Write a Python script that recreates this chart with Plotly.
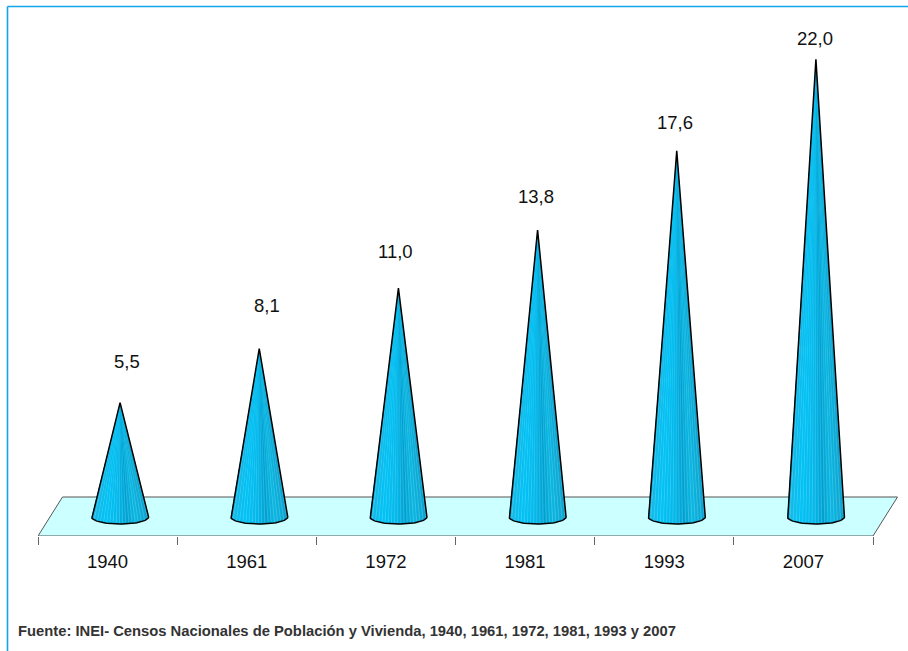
import math
import plotly.graph_objects as go

# ---- data ----
years = ["1940", "1961", "1972", "1981", "1993", "2007"]
values = [5.5, 8.1, 11.0, 13.8, 17.6, 22.0]
source = "Fuente: INEI- Censos Nacionales de Población y Vivienda, 1940, 1961, 1972, 1981, 1993 y 2007"

# ---- layout geometry (pixels) ----
W, H = 908, 651
L, R, B = 38, 903, 536
PX_X = (873 - 38) / len(years)   # px per category
PX_Y = 20.8                      # px per value unit
Y_BOTTOM = -(536 - 517) / PX_Y
Y_TOP = (517 - 0) / PX_Y
CONE_SHIFT = 12.5 / PX_X
CONE_HW = 28.5 / PX_X
ELL_H = 7 / PX_Y
FLOOR_DX = 24.5 / PX_X
FLOOR_BACK = (517 - 497) / PX_Y
LABEL_DX = [7, 8, -3, -2, -2, -1]
LABEL_DY = [41, 43, 37, 33, 28, 21]
FONT = "Liberation Sans"


def mix(c1, c2, f):
    return tuple(a + (b - a) * f for a, b in zip(c1, c2))


STOPS = [(-1.0, (24, 184, 228)), (-0.55, (0, 196, 248)), (-0.1, (4, 186, 236)),
         (0.25, (0, 160, 208)), (0.55, (12, 184, 226)), (1.0, (14, 160, 204))]


def shade(t, stripe):
    for (t0, c0), (t1, c1) in zip(STOPS, STOPS[1:]):
        if t <= t1:
            c = mix(c0, c1, (t - t0) / (t1 - t0))
            break
    if stripe:
        c = mix(c, (255, 255, 255), 0.18)
    return "rgb(%d,%d,%d)" % c


fig = go.Figure()

# floor
fig.add_trace(go.Scatter(
    x=[0, FLOOR_DX, len(years) + FLOOR_DX, len(years), 0],
    y=[Y_BOTTOM, FLOOR_BACK, FLOOR_BACK, Y_BOTTOM, Y_BOTTOM],
    mode="lines", fill="toself", fillcolor="#CCFFFF",
    line=dict(color="#555555", width=1),
    hoverinfo="skip", showlegend=False, cliponaxis=False))

# solid underlay so seams between slices do not show the background
ux, uy = [], []
for k, v in enumerate(values):
    c = k + 0.5 + CONE_SHIFT
    ux.append(c)
    uy.append(v)
    for j in range(41):
        a = math.pi * j / 40
        ux.append(c - CONE_HW * math.cos(a))
        uy.append(-ELL_H * math.sin(a))
    ux += [c, None]
    uy += [v, None]
fig.add_trace(go.Scatter(
    x=ux, y=uy, mode="none", fill="toself", fillcolor="rgb(6,182,232)",
    hoverinfo="skip", showlegend=False))

# cone bodies: radial slices (wide base band, narrow light band)
PAIRS = 18
edges = []
for p in range(PAIRS):
    edges += [p / PAIRS, (p + 0.62) / PAIRS]
edges.append(1.0)
for i in range(len(edges) - 1):
    t0, t1 = -1 + 2 * edges[i], -1 + 2 * edges[i + 1]
    xs, ys = [], []
    for k, v in enumerate(values):
        c = k + 0.5 + CONE_SHIFT
        y0 = -ELL_H * math.sqrt(max(0, 1 - t0 * t0))
        y1 = -ELL_H * math.sqrt(max(0, 1 - t1 * t1))
        xs += [c, c + t0 * CONE_HW, c + t1 * CONE_HW, c, None]
        ys += [v, y0, y1, v, None]
    col = shade((t0 + t1) / 2, i % 2 == 1)
    fig.add_trace(go.Scatter(
        x=xs, y=ys, mode="none", fill="toself", fillcolor=col,
        hoverinfo="skip", showlegend=False))

# cone outlines
fig.add_trace(go.Scatter(
    x=ux, y=uy, mode="lines", line=dict(color="#000000", width=1.5),
    hoverinfo="skip", showlegend=False))

# value labels
for k, v in enumerate(values):
    fig.add_annotation(
        x=k + 0.5 + CONE_SHIFT, y=v, xref="x", yref="y",
        text=f"{v:.1f}".replace(".", ","), showarrow=False,
        xshift=LABEL_DX[k], yshift=LABEL_DY[k],
        font=dict(family=FONT, size=18.5, color="#111111"))

# source
fig.add_annotation(
    x=(16 - L) / (R - L), y=-(631 - B) / B, xref="paper", yref="paper",
    xanchor="left", yanchor="middle", text=f"<b>{source}</b>", showarrow=False,
    font=dict(family=FONT, size=14.77, color="#333333"))

# frame (top and left only)
fx = (7.5 - L) / (R - L)
fy = (B - 6.5) / B
fr = (W - L) / (R - L)
fb = (B - H) / B
fig.add_shape(type="line", xref="paper", yref="paper", x0=fx, x1=fr, y0=fy, y1=fy,
              line=dict(color="#12A5E8", width=1.6))
fig.add_shape(type="line", xref="paper", yref="paper", x0=fx, x1=fx, y0=fy, y1=fb,
              line=dict(color="#12A5E8", width=1.6))

fig.update_layout(
    width=W, height=H,
    margin=dict(l=L, r=W - R, t=0, b=H - B),
    paper_bgcolor="white", plot_bgcolor="white",
    showlegend=False,
    xaxis=dict(
        range=[0, (R - L) / PX_X], showgrid=False, zeroline=False, showline=False,
        tickmode="array", tickvals=[i + 0.5 for i in range(len(years))], ticktext=years,
        ticks="outside", ticklen=9, tickcolor="rgba(0,0,0,0)",
        tickfont=dict(family=FONT, size=18.5, color="#111111"),
        minor=dict(tickmode="array", tickvals=list(range(len(years) + 1)),
                   ticks="outside", ticklen=8, tickcolor="#666666", tickwidth=1, showgrid=False),
    ),
    yaxis=dict(range=[Y_BOTTOM, Y_TOP], visible=False),
)

fig.write_html("out.html", config={"displayModeBar": False},
               post_script="document.body.style.margin='0';document.body.style.overflow='hidden';")
